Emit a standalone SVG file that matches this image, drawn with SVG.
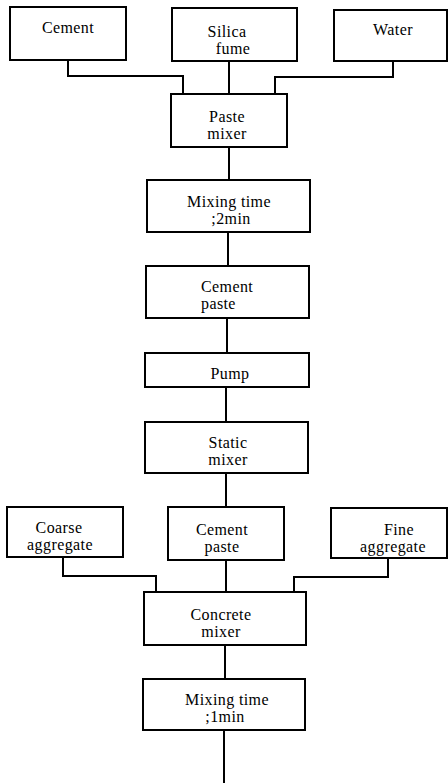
<svg xmlns="http://www.w3.org/2000/svg" width="448" height="783" viewBox="0 0 448 783">
<style>
.box{fill:#fff;stroke:#000;stroke-width:2}
.ln{fill:none;stroke:#000;stroke-width:2}
text{font-family:"Liberation Serif","DejaVu Serif",serif;font-size:16px;letter-spacing:0.4px;fill:#000;text-anchor:middle}
</style>
<rect width="448" height="783" fill="#fff"/>
<g id="connectors">
<polyline class="ln" points="68,60 68,76 183,76 183,94"/>
<line class="ln" x1="229" y1="61" x2="229" y2="94"/>
<polyline class="ln" points="393,61 393,77 275,77 275,94"/>
<line class="ln" x1="229" y1="147" x2="229" y2="180"/>
<line class="ln" x1="228" y1="232" x2="228" y2="266"/>
<line class="ln" x1="227" y1="318" x2="227" y2="353"/>
<line class="ln" x1="226" y1="387" x2="226" y2="422"/>
<line class="ln" x1="226" y1="473" x2="226" y2="507"/>
<polyline class="ln" points="63,557 63,576 156,576 156,592"/>
<line class="ln" x1="226" y1="560" x2="226" y2="592"/>
<polyline class="ln" points="388,558 388,577 294,577 294,592"/>
<line class="ln" x1="225" y1="645" x2="225" y2="679"/>
<line class="ln" x1="224" y1="730" x2="224" y2="783"/>
</g>
<g id="cement"><rect class="box" x="10" y="7" width="116" height="53"/><text x="68" y="33">Cement</text></g>
<g id="silica"><rect class="box" x="172" y="8" width="125" height="53"/><text x="227" y="37">Silica</text><text x="233" y="54">fume</text></g>
<g id="water"><rect class="box" x="334" y="10" width="113" height="51"/><text x="393" y="35">Water</text></g>
<g id="paste-mixer"><rect class="box" x="171" y="94" width="116" height="53"/><text x="227" y="122">Paste</text><text x="227" y="139">mixer</text></g>
<g id="mixing-time-2"><rect class="box" x="147" y="180" width="163" height="52"/><text x="229" y="207">Mixing time</text><text x="231" y="224">;2min</text></g>
<g id="cement-paste-1"><rect class="box" x="146" y="266" width="163" height="52"/><text x="201" y="292" style="text-anchor:start">Cement</text><text x="201" y="309" style="text-anchor:start">paste</text></g>
<g id="pump"><rect class="box" x="145" y="353" width="164" height="34"/><text x="230" y="379">Pump</text></g>
<g id="static-mixer"><rect class="box" x="145" y="422" width="163" height="51"/><text x="228" y="448">Static</text><text x="228" y="465">mixer</text></g>
<g id="coarse"><rect class="box" x="7" y="507" width="116" height="50"/><text x="59" y="533">Coarse</text><text x="60" y="550">aggregate</text></g>
<g id="cement-paste-2"><rect class="box" x="168" y="507" width="116" height="53"/><text x="222" y="535">Cement</text><text x="222" y="552">paste</text></g>
<g id="fine"><rect class="box" x="331" y="508" width="116" height="50"/><text x="399" y="535">Fine</text><text x="393" y="552">aggregate</text></g>
<g id="concrete-mixer"><rect class="box" x="144" y="592" width="162" height="53"/><text x="221" y="620">Concrete</text><text x="221" y="637">mixer</text></g>
<g id="mixing-time-1"><rect class="box" x="143" y="679" width="162" height="51"/><text x="227" y="705">Mixing time</text><text x="225" y="722">;1min</text></g>
</svg>
